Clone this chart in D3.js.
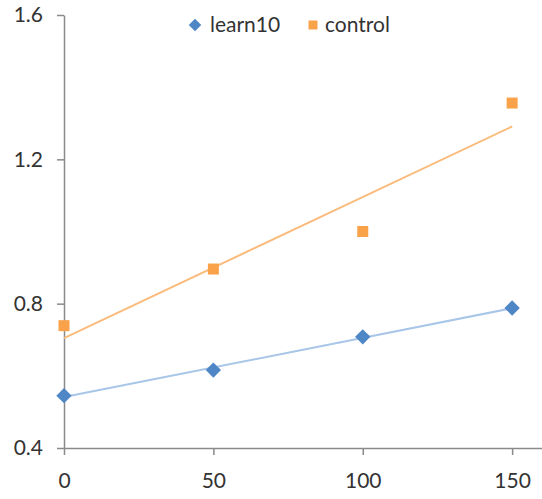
<!DOCTYPE html>
<html>
<head>
<meta charset="utf-8">
<script src="https://cdn.jsdelivr.net/npm/d3@7"></script>
<style>
  body { margin: 0; background: #fff; }
  svg text { font-family: Lato, "Open Sans", sans-serif; fill: #333; }
</style>
</head>
<body>
<div id="chart"></div>
<script>
// data
const xValues = [0, 50, 100, 150]
const learn10 = [0.545, 0.616, 0.708, 0.788]
const control = [0.739, 0.896, 1.0, 1.356]
const xTicks = [0, 50, 100, 150]
const yTicks = [0.4, 0.8, 1.2, 1.6]

const width = 542
const height = 499

const series = [
  { name: "learn10", values: learn10, color: "#4f86c6", trend: "#a8c6e8", shape: d3.symbolDiamond2 },
  { name: "control", values: control, color: "#f9a24a", trend: "#fbbb7c", shape: d3.symbolSquare },
]

const x = d3.scaleLinear().domain([0, 160]).range([64, 542])
const y = d3.scaleLinear().domain([0.4, 1.6]).range([448, 15])

const svg = d3.select("#chart")
  .append("svg")
  .attr("width", width)
  .attr("height", height)

// least squares trend line, as a spreadsheet would draw it
function linearFit(xs, ys) {
  const mx = d3.mean(xs), my = d3.mean(ys)
  const num = d3.sum(xs, (xv, i) => (xv - mx) * (ys[i] - my))
  const den = d3.sum(xs, xv => (xv - mx) ** 2)
  const slope = num / den
  return xv => my + slope * (xv - mx)
}

// y axis
const yAxis = svg.append("g")
  .attr("transform", `translate(${x(0)},0)`)
  .call(d3.axisLeft(y).tickValues(yTicks).tickFormat(d3.format(".1f"))
    .tickSize(7).tickSizeOuter(0).tickPadding(14))
yAxis.selectAll("text").attr("font-size", 21).style("font-family", null)

// x axis
const xAxis = svg.append("g")
  .attr("transform", `translate(0,${y(0.4)})`)
  .call(d3.axisBottom(x).tickValues(xTicks).tickSize(7).tickSizeOuter(0).tickPadding(18))
xAxis.selectAll("text").attr("font-size", 21).style("font-family", null)

svg.selectAll(".domain, .tick line")
  .attr("stroke", "#8a8a8a")
  .attr("stroke-width", 1.5)

// trend lines
const line = d3.line().x(d => x(d[0])).y(d => y(d[1]))
series.forEach(s => {
  const fit = linearFit(xValues, s.values)
  const ext = d3.extent(xValues)
  svg.append("path")
    .datum(ext.map(xv => [xv, fit(xv)]))
    .attr("fill", "none")
    .attr("stroke", s.trend)
    .attr("stroke-width", 2)
    .attr("d", line)
})

// markers
series.forEach(s => {
  svg.append("g")
    .selectAll("path")
    .data(s.values.map((v, i) => [xValues[i], v]))
    .join("path")
      .attr("transform", d => `translate(${x(d[0])},${y(d[1])})`)
      .attr("d", d3.symbol().type(s.shape).size(s.shape === d3.symbolSquare ? 121 : 150))
      .attr("fill", s.color)
})

// legend
const legendItems = [
  { s: series[0], x: 195, tx: 210 },
  { s: series[1], x: 313, tx: 325 },
]
const legend = svg.append("g")
legendItems.forEach(item => {
  legend.append("path")
    .attr("transform", `translate(${item.x},25)`)
    .attr("d", d3.symbol().type(item.s.shape).size(item.s.shape === d3.symbolSquare ? 81 : 100))
    .attr("fill", item.s.color)
  legend.append("text")
    .attr("x", item.tx)
    .attr("y", 25)
    .attr("dy", "0.35em")
    .attr("font-size", 21)
    .text(item.s.name)
})
</script>
</body>
</html>
